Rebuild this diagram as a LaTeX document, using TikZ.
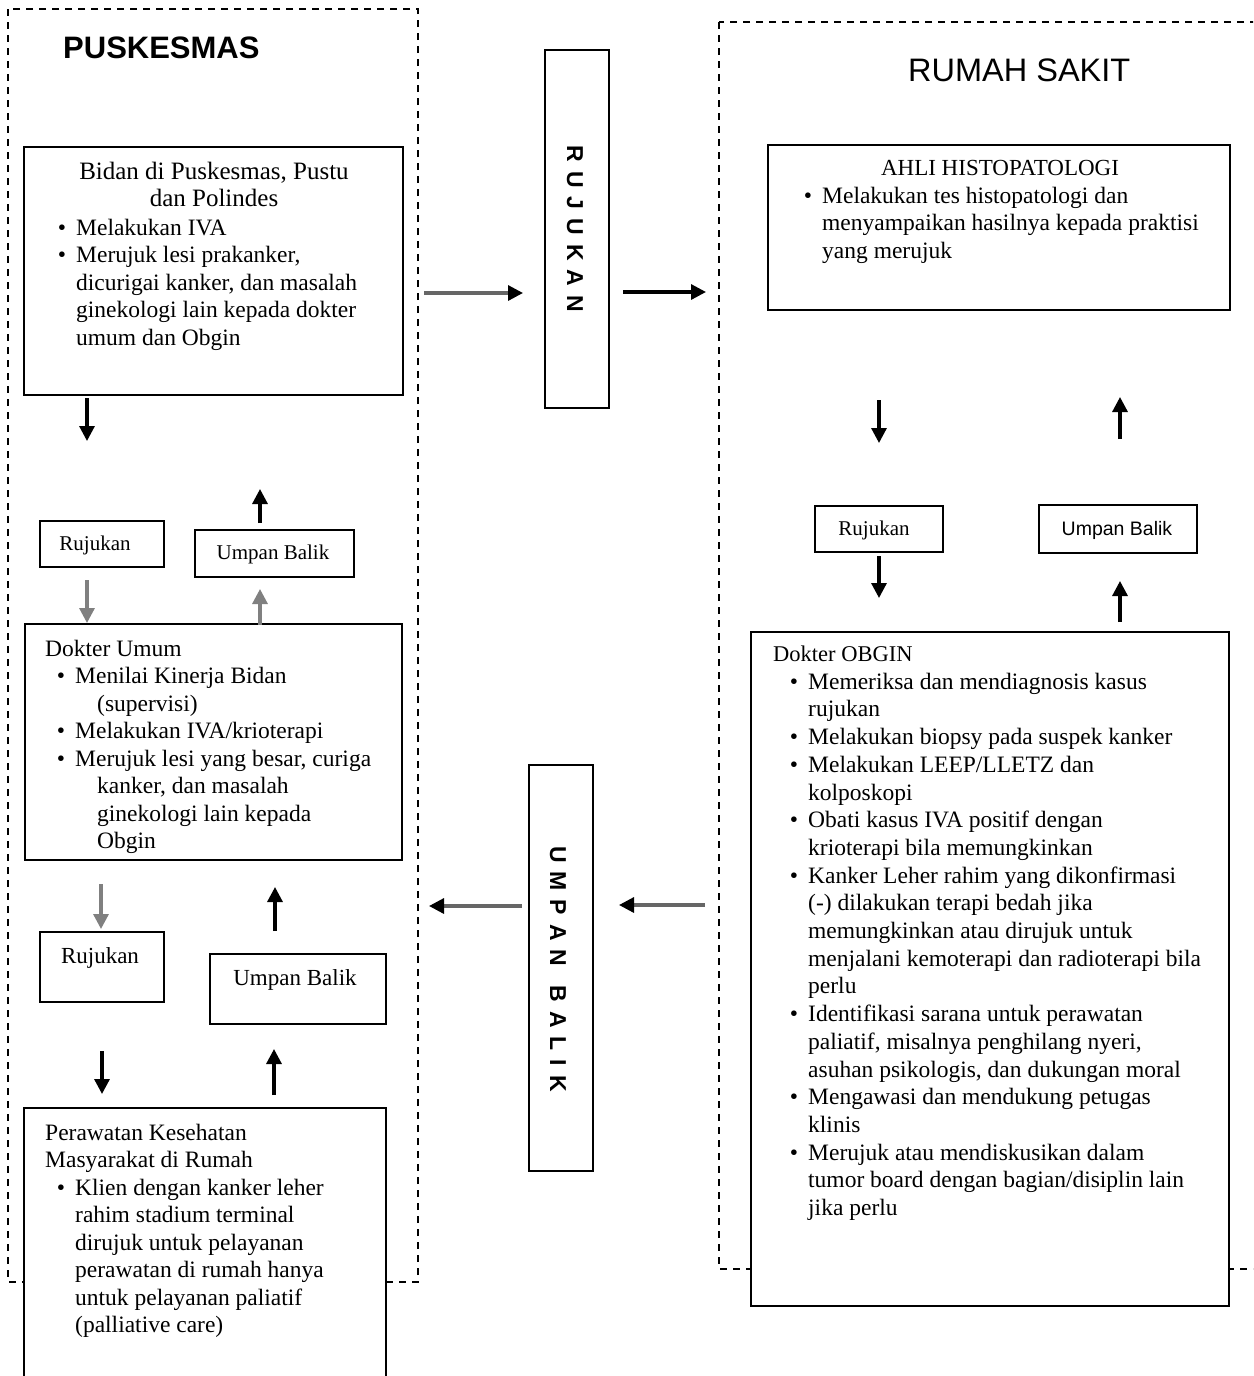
\documentclass[tikz,border=0pt]{standalone}
\usepackage{fontspec}
\setmainfont{Liberation Serif}
\setsansfont{Liberation Sans}
\usetikzlibrary{arrows.meta}
% bullet hung to the left of the item text
\newcommand{\bl}{\llap{\textbullet\hspace{10pt}}}
% fixed first-line height, so a text block's top sits 20pt above its first baseline
\newcommand{\fl}{\rule{0pt}{20pt}}
\newcommand{\ind}[1]{\hspace*{#1pt}}

\begin{document}
\begin{tikzpicture}[x=1pt,y=-1pt,
  box/.style={draw, line width=1.3pt, fill=white, inner sep=0pt},
  cont/.style={draw, line width=1.3pt, dash pattern=on 7pt off 6pt},
  body/.style={inner sep=0pt, align=left, anchor=north west, font=\fontsize{23.5}{27.5}\selectfont},
  lbl/.style={inner sep=0pt, anchor=base, font=\fontsize{21}{25}\selectfont},
  head/.style={inner sep=0pt, anchor=base west, font=\sffamily\fontsize{31.5}{36}\selectfont},
  vtext/.style={inner sep=0pt, rotate=-90, font=\sffamily\bfseries\fontsize{23}{26}\selectfont},
  arr/.style={line width=3.2pt, -{Triangle[length=15pt,width=15pt]}},
  garr/.style={arr, draw=black!50, fill=black!50},
  marr/.style={line width=3.2pt, draw=black!60, -{Triangle[length=15pt,width=15pt,color=black]}},
]
\useasboundingbox (0,0) rectangle (1253,1376);
\clip (0,0) rectangle (1253,1376);

% ---------- dashed containers ----------
\draw[cont] (8,9) rectangle (418,1282);
\draw[cont] (719,22) rectangle (1275,1269);

\node[head, font=\sffamily\bfseries\fontsize{31}{36}\selectfont] (tpk) at (63,58) {PUSKESMAS};
\node[head, font=\sffamily\fontsize{32.5}{36}\selectfont] (trs) at (908,81) {RUMAH SAKIT};

% ---------- Puskesmas side ----------
\node[box, minimum width=379pt, minimum height=248pt] (bidan) at (213.5,271) {};
\node[inner sep=0pt, anchor=north, align=center, font=\fontsize{25}{27}\selectfont] (bidanT) at (214,159)
  {\fl Bidan di Puskesmas, Pustu\\ dan Polindes};
\node[body] (bidanB) at (76,215)
  {\fl\bl Melakukan IVA\\
   \bl Merujuk lesi prakanker,\\
   dicurigai kanker, dan masalah\\
   ginekologi lain kepada dokter\\
   umum dan Obgin};

\node[box, minimum width=124pt, minimum height=46pt] (rj1) at (102,544) {};
\node[lbl] (rj1t) at (95,550) {Rujukan};
\node[box, minimum width=159pt, minimum height=47pt] (ub1) at (274.5,553.5) {};
\node[lbl] (ub1t) at (273,559) {Umpan Balik};

\node[box, minimum width=377pt, minimum height=236pt] (du) at (213.5,742) {};
\node[body] (duT) at (45,636)
  {\fl Dokter Umum\\
   \ind{30}\bl Menilai Kinerja Bidan\\
   \ind{52}(supervisi)\\
   \ind{30}\bl Melakukan IVA/krioterapi\\
   \ind{30}\bl Merujuk lesi yang besar, curiga\\
   \ind{52}kanker, dan masalah\\
   \ind{52}ginekologi lain kepada\\
   \ind{52}Obgin};

\node[box, minimum width=124pt, minimum height=70pt] (rj2) at (102,967) {};
\node[lbl, font=\fontsize{23}{27}\selectfont] (rj2t) at (100,963) {Rujukan};
\node[box, minimum width=176pt, minimum height=70pt] (ub2) at (298,989) {};
\node[lbl, font=\fontsize{23}{27}\selectfont] (ub2t) at (295,985) {Umpan Balik};

\node[box, minimum width=362pt, minimum height=312pt] (pkm) at (205,1264) {};
\node[body] (pkmT) at (45,1120)
  {\fl Perawatan Kesehatan\\
   Masyarakat di Rumah\\
   \ind{30}\bl Klien dengan kanker leher\\
   \ind{30}rahim stadium terminal\\
   \ind{30}dirujuk untuk pelayanan\\
   \ind{30}perawatan di rumah hanya\\
   \ind{30}untuk pelayanan paliatif\\
   \ind{30}(palliative care)};

% ---------- middle columns ----------
\node[box, minimum width=64pt, minimum height=358pt] (rjv) at (577,229) {};
\node[vtext] (rjvt) at (575,229)
  {R\hspace{9pt}U\hspace{9pt}J\hspace{9pt}U\hspace{9pt}K\hspace{9pt}A\hspace{9pt}N};
\node[box, minimum width=64pt, minimum height=406pt] (ubv) at (561,968) {};
\node[vtext] (ubvt) at (558,969)
  {U\hspace{9pt}M\hspace{9pt}P\hspace{9pt}A\hspace{9pt}N\hspace{19pt}B\hspace{9pt}A\hspace{9pt}L\hspace{9pt}I\hspace{9pt}K};

% ---------- Rumah Sakit side ----------
\node[box, minimum width=462pt, minimum height=165pt] (ahli) at (999,227.5) {};
\node[inner sep=0pt, anchor=base, font=\fontsize{23}{26}\selectfont] (ahliT) at (1000,175) {AHLI HISTOPATOLOGI};
\node[body] (ahliB) at (822,183)
  {\fl\bl Melakukan tes histopatologi dan\\
   menyampaikan hasilnya kepada praktisi\\
   yang merujuk};

\node[box, minimum width=128pt, minimum height=46pt] (rjr) at (879,529) {};
\node[lbl] (rjrt) at (874,535) {Rujukan};
\node[box, minimum width=158pt, minimum height=48pt] (ubr) at (1118,529) {};
\node[lbl, font=\sffamily\fontsize{19.5}{23}\selectfont] (ubrt) at (1117,535) {Umpan Balik};

\node[box, minimum width=478pt, minimum height=674pt] (obg) at (990,969) {};
\node[inner sep=0pt, anchor=base west, font=\fontsize{22.5}{26}\selectfont] (obgT) at (773,661) {Dokter OBGIN};
\node[body, font=\fontsize{23.5}{27.7}\selectfont] (obgB) at (808,669)
  {\fl\bl Memeriksa dan mendiagnosis kasus\\
   rujukan\\
   \bl Melakukan biopsy pada suspek kanker\\
   \bl Melakukan LEEP/LLETZ dan\\
   kolposkopi\\
   \bl Obati kasus IVA positif dengan\\
   krioterapi bila memungkinkan\\
   \bl Kanker Leher rahim yang dikonfirmasi\\
   (-) dilakukan terapi bedah jika\\
   memungkinkan atau dirujuk untuk\\
   menjalani kemoterapi dan radioterapi bila\\
   perlu\\
   \bl Identifikasi sarana untuk perawatan\\
   paliatif, misalnya penghilang nyeri,\\
   asuhan psikologis, dan dukungan moral\\
   \bl Mengawasi dan mendukung petugas\\
   klinis\\
   \bl Merujuk atau mendiskusikan dalam\\
   tumor board dengan bagian/disiplin lain\\
   jika perlu};

% ---------- arrow end points ----------
\coordinate (a1s) at (87,398);   \coordinate (a1e) at (87,441);
\coordinate (a2s) at (260,523);  \coordinate (a2e) at (260,489);
\coordinate (a3s) at (87,580);   \coordinate (a3e) at (87,623);
\coordinate (a4s) at (260,625);  \coordinate (a4e) at (260,589);
\coordinate (a5s) at (101,884);  \coordinate (a5e) at (101,929);
\coordinate (a6s) at (275,931);  \coordinate (a6e) at (275,887);
\coordinate (a7s) at (102,1051); \coordinate (a7e) at (102,1094);
\coordinate (a8s) at (274,1095); \coordinate (a8e) at (274,1049);
\coordinate (h1s) at (424,293);  \coordinate (h1e) at (523,293);
\coordinate (h2s) at (623,292);  \coordinate (h2e) at (706,292);
\coordinate (h3s) at (522,906);  \coordinate (h3e) at (429,906);
\coordinate (h4s) at (705,905);  \coordinate (h4e) at (619,905);
\coordinate (r1s) at (879,400);  \coordinate (r1e) at (879,443);
\coordinate (r2s) at (1120,439); \coordinate (r2e) at (1120,397);
\coordinate (r3s) at (879,556);  \coordinate (r3e) at (879,598);
\coordinate (r4s) at (1120,622); \coordinate (r4e) at (1120,581);

% ---------- arrows ----------
\draw[arr]  (a1s) -- (a1e);
\draw[arr]  (a2s) -- (a2e);
\draw[garr] (a3s) -- (a3e);
\draw[garr] (a4s) -- (a4e);
\draw[garr] (a5s) -- (a5e);
\draw[arr]  (a6s) -- (a6e);
\draw[arr]  (a7s) -- (a7e);
\draw[arr]  (a8s) -- (a8e);
\draw[marr] (h1s) -- (h1e);
\draw[arr]  (h2s) -- (h2e);
\draw[marr] (h3s) -- (h3e);
\draw[marr] (h4s) -- (h4e);
\draw[arr]  (r1s) -- (r1e);
\draw[arr]  (r2s) -- (r2e);
\draw[arr]  (r3s) -- (r3e);
\draw[arr]  (r4s) -- (r4e);
\end{tikzpicture}
\end{document}
